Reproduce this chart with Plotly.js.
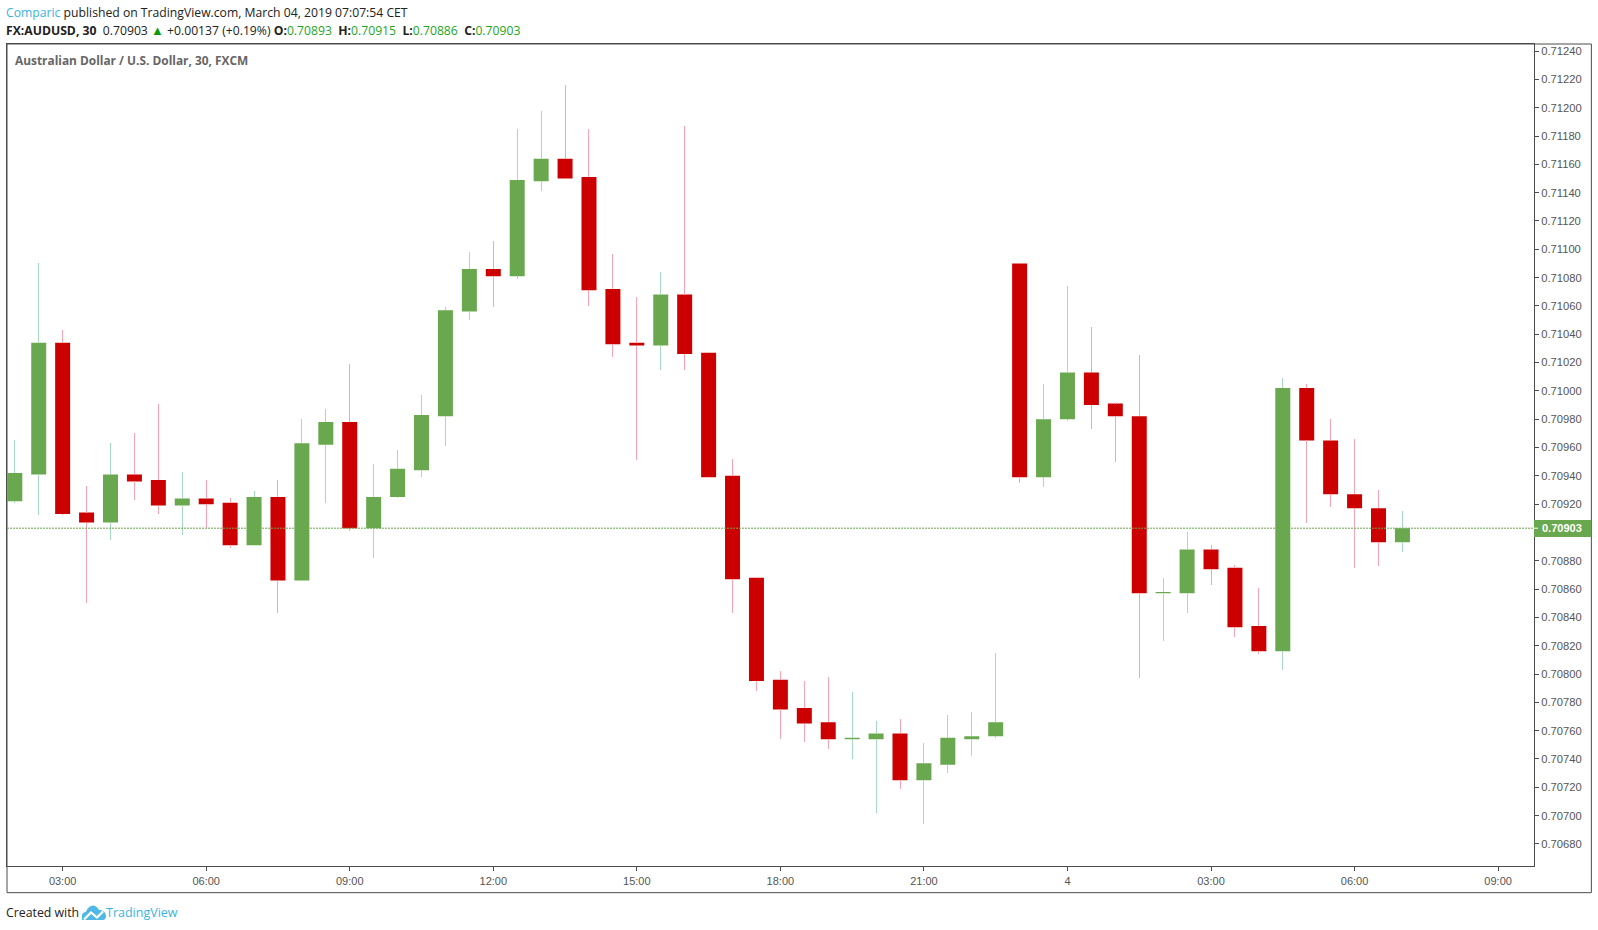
<!DOCTYPE html>
<html><head><meta charset="utf-8">
<script src="https://cdn.plot.ly/plotly-3.0.1.min.js"></script>
<style>html,body{margin:0;padding:0;background:#fff;overflow:hidden}#chart{width:1598px;height:930px;position:relative}
#logo{position:absolute;left:82px;top:905px;width:24px;height:15px}
.scatterlayer .js-line{shape-rendering:crispEdges}</style>
</head><body><div id="chart"></div>
<svg id="logo" viewBox="0 0 24 15"><path fill="#4fb8e6" d="M0 15 L0 11 C0 8 2 7 4 7 C5 3 9 0 12 0.500 C14 1 16 3 17 5 C20 4.500 24 7 24 11 C24 13 23 15 21 15 Z"/><path fill="none" stroke="#fff" stroke-width="2.200" d="M2 14.500 L9 7.500 L15 12.500 L21 6.500"/></svg>
<script>
const times = ["2019-03-03 02:00","2019-03-03 02:30","2019-03-03 03:00","2019-03-03 03:30","2019-03-03 04:00","2019-03-03 04:30","2019-03-03 05:00","2019-03-03 05:30","2019-03-03 06:00","2019-03-03 06:30","2019-03-03 07:00","2019-03-03 07:30","2019-03-03 08:00","2019-03-03 08:30","2019-03-03 09:00","2019-03-03 09:30","2019-03-03 10:00","2019-03-03 10:30","2019-03-03 11:00","2019-03-03 11:30","2019-03-03 12:00","2019-03-03 12:30","2019-03-03 13:00","2019-03-03 13:30","2019-03-03 14:00","2019-03-03 14:30","2019-03-03 15:00","2019-03-03 15:30","2019-03-03 16:00","2019-03-03 16:30","2019-03-03 17:00","2019-03-03 17:30","2019-03-03 18:00","2019-03-03 18:30","2019-03-03 19:00","2019-03-03 19:30","2019-03-03 20:00","2019-03-03 20:30","2019-03-03 21:00","2019-03-03 21:30","2019-03-03 22:00","2019-03-03 22:30","2019-03-03 23:00","2019-03-03 23:30","2019-03-04 00:00","2019-03-04 00:30","2019-03-04 01:00","2019-03-04 01:30","2019-03-04 02:00","2019-03-04 02:30","2019-03-04 03:00","2019-03-04 03:30","2019-03-04 04:00","2019-03-04 04:30","2019-03-04 05:00","2019-03-04 05:30","2019-03-04 06:00","2019-03-04 06:30","2019-03-04 07:00"];
const open = [0.70922,0.70941,0.71034,0.70914,0.70907,0.70941,0.70937,0.70919,0.70924,0.70921,0.70891,0.70925,0.70866,0.70962,0.70978,0.70903,0.70925,0.70944,0.70982,0.71056,0.71086,0.71081,0.71148,0.71164,0.71151,0.71072,0.71034,0.71032,0.71068,0.71027,0.70940,0.70868,0.70796,0.70776,0.70766,0.70754,0.70754,0.70758,0.70725,0.70736,0.70754,0.70756,0.71090,0.70939,0.70980,0.71013,0.70991,0.70982,0.70857,0.70857,0.70888,0.70875,0.70834,0.70816,0.71002,0.70965,0.70927,0.70917,0.70893];
const close = [0.70942,0.71034,0.70913,0.70907,0.70941,0.70936,0.70919,0.70924,0.70920,0.70891,0.70925,0.70866,0.70963,0.70978,0.70903,0.70925,0.70945,0.70983,0.71057,0.71086,0.71081,0.71149,0.71164,0.71150,0.71071,0.71033,0.71032,0.71068,0.71026,0.70939,0.70867,0.70795,0.70775,0.70765,0.70754,0.70755,0.70758,0.70725,0.70737,0.70755,0.70756,0.70766,0.70939,0.70980,0.71013,0.70990,0.70982,0.70857,0.70858,0.70888,0.70874,0.70833,0.70816,0.71002,0.70965,0.70927,0.70917,0.70893,0.70903];
const high = [0.70965,0.71090,0.71043,0.70933,0.70963,0.70970,0.70991,0.70943,0.70937,0.70924,0.70929,0.70937,0.70980,0.70987,0.71019,0.70948,0.70958,0.70997,0.71059,0.71098,0.71106,0.71185,0.71198,0.71216,0.71185,0.71097,0.71066,0.71084,0.71187,0.71027,0.70952,0.70868,0.70802,0.70795,0.70798,0.70787,0.70767,0.70768,0.70751,0.70771,0.70773,0.70815,0.71090,0.71005,0.71074,0.71045,0.70992,0.71025,0.70868,0.70900,0.70891,0.70877,0.70861,0.71009,0.71005,0.70980,0.70966,0.70930,0.70915];
const low = [0.70921,0.70912,0.70912,0.70850,0.70895,0.70923,0.70913,0.70898,0.70903,0.70889,0.70891,0.70843,0.70866,0.70921,0.70901,0.70882,0.70924,0.70939,0.70961,0.71050,0.71059,0.71079,0.71141,0.71150,0.71060,0.71024,0.70951,0.71015,0.71015,0.70939,0.70843,0.70788,0.70754,0.70752,0.70747,0.70740,0.70702,0.70719,0.70694,0.70730,0.70742,0.70755,0.70935,0.70932,0.70979,0.70973,0.70950,0.70797,0.70823,0.70843,0.70863,0.70826,0.70814,0.70803,0.70907,0.70918,0.70875,0.70876,0.70886];
const xTickVals = ["2019-03-03 03:00","2019-03-03 06:00","2019-03-03 09:00","2019-03-03 12:00","2019-03-03 15:00","2019-03-03 18:00","2019-03-03 21:00","2019-03-04 00:00","2019-03-04 03:00","2019-03-04 06:00","2019-03-04 09:00"];
const xTickText = ["03:00","06:00","09:00","12:00","15:00","18:00","21:00","4","03:00","06:00","09:00"];
const yTickText = ["0.70680","0.70700","0.70720","0.70740","0.70760","0.70780","0.70800","0.70820","0.70840","0.70860","0.70880","0.70920","0.70940","0.70960","0.70980","0.71000","0.71020","0.71040","0.71060","0.71080","0.71100","0.71120","0.71140","0.71160","0.71180","0.71200","0.71220","0.71240"];
const lastPrice = 0.70903;

const UP='#6aa84f', DOWN='#cc0000', WICK_UP='#a6dac3', WICK_DOWN='#f9a3b2', LINE='#4c4c4c', BLUE='#3bb3e4';
const L=6.5,R=1534.3,T=43.7,B=866.3,W=1598,H=930;
const px=x=>(x-L)/(R-L), py=y=>(B-y)/(B-T);

function wickTrace(isUp,color){
  const xs=[],ys=[];
  times.forEach((t,i)=>{
    if((close[i]>=open[i])===isUp){
      xs.push(t,t,null,t,t,null);
      ys.push(low[i],Math.min(open[i],close[i]),null,Math.max(open[i],close[i]),high[i],null);
    }
  });
  return {type:'scatter',mode:'lines',x:xs,y:ys,line:{color:color,width:1},hoverinfo:'skip',showlegend:false};
}
const bodyTrace={type:'candlestick',x:times,open:open,close:close,high:high,low:low,
  increasing:{line:{color:UP,width:0},fillcolor:UP},
  decreasing:{line:{color:DOWN,width:0},fillcolor:DOWN},
  whiskerwidth:0,showlegend:false};

const ann=(x,y,text,size,color,family,extra)=>Object.assign({xref:'paper',yref:'paper',x:px(x),y:py(y),text:text,showarrow:false,xanchor:'left',yanchor:'middle',align:'left',font:{size:size,color:color,family:family}},extra||{});
const HF='"Open Sans",sans-serif';
const AF='"Liberation Sans",Arial,sans-serif';
const G='#1ea51e';
const layout={
  width:W,height:H,paper_bgcolor:'#fff',plot_bgcolor:'#fff',showlegend:false,boxgap:0.373,boxgroupgap:0,boxmode:'overlay',
  margin:{l:L,r:W-R,t:T,b:H-B,pad:0},
  font:{family:AF,size:11,color:'#555'},
  xaxis:{type:'date',range:['2019-03-03 01:50:13','2019-03-04 09:45:00'],rangeslider:{visible:false},tickmode:'array',tickvals:xTickVals,ticktext:xTickText,
    ticks:'outside',ticklen:4,tickcolor:LINE,tickwidth:1,showgrid:false,zeroline:false,showline:true,linecolor:LINE,linewidth:1,mirror:true,ticklabelstandoff:1,tickfont:{size:11,color:'#555',family:AF}},
  yaxis:{side:'right',range:[0.706644,0.71245],tickmode:'array',tickvals:yTickText.map(Number),ticktext:yTickText,
    ticks:'outside',ticklen:4,tickcolor:LINE,tickwidth:1,showgrid:false,zeroline:false,showline:true,linecolor:LINE,linewidth:1,mirror:true,tickfont:{size:11.2,color:'#555',family:AF}},
  shapes:[
    {type:'rect',xref:'paper',yref:'paper',x0:px(6.5),x1:px(1591.7),y0:py(893),y1:py(43.7),line:{color:LINE,width:1},fillcolor:'rgba(0,0,0,0)',layer:'below'},
    {type:'line',xref:'paper',yref:'y',x0:0,x1:1,y0:lastPrice,y1:lastPrice,line:{color:UP,width:1,dash:'2px,1px'},layer:'above'},
    {type:'rect',xref:'paper',yref:'paper',x0:px(1534.3),x1:px(1591.7),y0:py(537),y1:py(520),line:{width:0},fillcolor:UP,layer:'above'},
    {type:'line',xref:'paper',yref:'y',x0:px(1534.3),x1:px(1538.3),y0:lastPrice,y1:lastPrice,line:{color:'#fff',width:1},layer:'above'}
  ],
  annotations:[
    ann(3,12,'<span style="color:'+BLUE+'">Comparic</span> published on TradingView.com, March 04, 2019 07:07:54 CET',12.2,'#222',HF),
    ann(3,29.5,'<b>FX:AUDUSD, 30</b>  0.70903 <span style="color:#0a9a0a;font-size:13px">▲</span> +0.00137 (+0.19%) <b>O:</b><span style="color:'+G+'">0.70893</span>  <b>H:</b><span style="color:'+G+'">0.70915</span>  <b>L:</b><span style="color:'+G+'">0.70886</span>  <b>C:</b><span style="color:'+G+'">0.70903</span>',12.2,'#222',HF),
    ann(13,59.5,'<b>Australian Dollar / U.S. Dollar, 30, FXCM</b>',11.9,'#666',HF),
    ann(3,913,'Created with',12.3,'#222',HF),
    ann(104,913,'TradingView',12.5,BLUE,HF),
    {xref:'paper',yref:'y',x:px(1540),y:lastPrice,text:'<b>0.70903</b>',showarrow:false,xanchor:'left',yanchor:'middle',font:{size:11,color:'#fff',family:AF}}
  ]
};
Plotly.newPlot('chart',[wickTrace(true,WICK_UP),wickTrace(false,WICK_DOWN),bodyTrace],layout,{displayModeBar:false,staticPlot:true});
</script></body></html>
